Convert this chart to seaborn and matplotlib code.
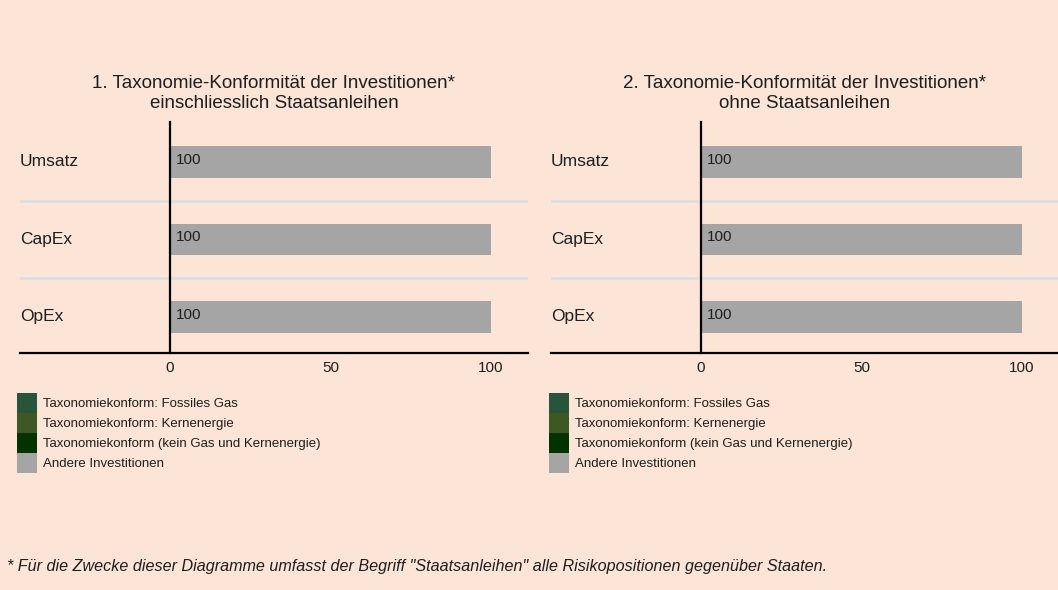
import pandas as pd
import seaborn as sns
import matplotlib.pyplot as plt
from matplotlib.patches import Patch
from matplotlib.transforms import blended_transform_factory

# --- Data ---
CATEGORIES = ['Umsatz', 'CapEx', 'OpEx']
SERIES = [
    'Taxonomiekonform: Fossiles Gas',
    'Taxonomiekonform: Kernenergie',
    'Taxonomiekonform (kein Gas und Kernenergie)',
    'Andere Investitionen',
]
COLORS = ['#28543C', '#3D5825', '#003300', '#A5A5A5']

# panel 1: incl. sovereign bonds, panel 2: without
PANEL1_VALUES = {
    SERIES[0]: [0, 0, 0],
    SERIES[1]: [0, 0, 0],
    SERIES[2]: [0, 0, 0],
    SERIES[3]: [100, 100, 100],
}
PANEL2_VALUES = {
    SERIES[0]: [0, 0, 0],
    SERIES[1]: [0, 0, 0],
    SERIES[2]: [0, 0, 0],
    SERIES[3]: [100, 100, 100],
}
TITLES = [
    '1. Taxonomie-Konformität der Investitionen*\neinschliesslich Staatsanleihen',
    '2. Taxonomie-Konformität der Investitionen*\nohne Staatsanleihen',
]
X_TICKS = [0, 50, 100]
FOOTNOTE = ('* Für die Zwecke dieser Diagramme umfasst der Begriff "Staatsanleihen" '
            'alle Risikopositionen gegenüber Staaten.')

BG = '#FCE4D6'
TEXT = '#1E1E1E'

sns.set_theme(style='white')
plt.rcParams['font.family'] = ['Liberation Sans', 'DejaVu Sans']


def to_long(values):
    rows = []
    for s in SERIES:
        for cat, v in zip(CATEGORIES, values[s]):
            rows.append({'Kategorie': cat, 'Serie': s, 'Wert': v})
    df = pd.DataFrame(rows)
    df['Kumuliert'] = df.groupby('Kategorie')['Wert'].cumsum()
    return df


def draw_panel(ax, values, title):
    df = to_long(values)
    ax.set_facecolor(BG)
    # stacked bars: draw cumulative totals from the outermost segment inwards
    for s, c in reversed(list(zip(SERIES, COLORS))):
        sub = df[df['Serie'] == s]
        sns.barplot(data=sub, y='Kategorie', x='Kumuliert', order=CATEGORIES,
                    orient='h', color=c, width=0.41, errorbar=None,
                    saturation=1, linewidth=0, ax=ax)

    ax.set_xlim(-46.7, 111.5)
    ax.set_ylim(2.465, -0.516)

    # separators between categories
    for i in range(len(CATEGORIES) - 1):
        ax.axhline(i + 0.5, color='#DCDFE0', lw=2, zorder=0)

    # value labels at the bar start
    for i, v in enumerate(values[SERIES[-1]]):
        ax.annotate(f'{v:g}', xy=(0, i), xytext=(4, 1.5), textcoords='offset points',
                    va='center', ha='left', fontsize=11, color=TEXT)

    # category labels at the left edge
    trans = blended_transform_factory(ax.transAxes, ax.transData)
    for i, cat in enumerate(CATEGORIES):
        ax.text(0.0, i, cat, transform=trans, ha='left', va='center',
                fontsize=12.5, color=TEXT)

    ax.set_yticks([])
    ax.set_xticks(X_TICKS)
    ax.set_xticklabels([str(t) for t in X_TICKS], fontsize=11, color=TEXT)
    ax.tick_params(axis='x', length=0, pad=6)
    ax.set_xlabel('')
    ax.set_ylabel('')

    for side in ['top', 'right']:
        ax.spines[side].set_visible(False)
    ax.spines['left'].set_position(('data', 0))
    ax.spines['left'].set_color('black')
    ax.spines['left'].set_linewidth(1.6)
    ax.spines['bottom'].set_color('black')
    ax.spines['bottom'].set_linewidth(1.6)

    ax.set_title(title, fontsize=13.5, color=TEXT, pad=10, linespacing=1.25)


fig = plt.figure(figsize=(10.58, 5.9), dpi=100)
fig.patch.set_facecolor(BG)

ax1 = fig.add_axes([20 / 1058, 1 - 353 / 590, 508 / 1058, 231 / 590])
ax2 = fig.add_axes([551 / 1058, 1 - 353 / 590, 508 / 1058, 231 / 590])

draw_panel(ax1, PANEL1_VALUES, TITLES[0])
draw_panel(ax2, PANEL2_VALUES, TITLES[1])

handles = [Patch(facecolor=c, edgecolor='none', label=s) for s, c in zip(SERIES, COLORS)]
for x0 in [17 / 1058, 549 / 1058]:
    leg = fig.legend(handles=handles, loc='upper left', bbox_to_anchor=(x0, 1 - 393 / 590),
                     bbox_transform=fig.transFigure, frameon=False, fontsize=9.5,
                     handlelength=1.52, handleheight=1.955, labelspacing=0,
                     handletextpad=0.45, borderpad=0, borderaxespad=0)
    for t in leg.get_texts():
        t.set_color(TEXT)

fig.text(7 / 1058, 1 - 567 / 590, FOOTNOTE, ha='left', va='center',
         fontsize=11.65, style='italic', color=TEXT)

fig.savefig('out.png', dpi=100, facecolor=BG)
